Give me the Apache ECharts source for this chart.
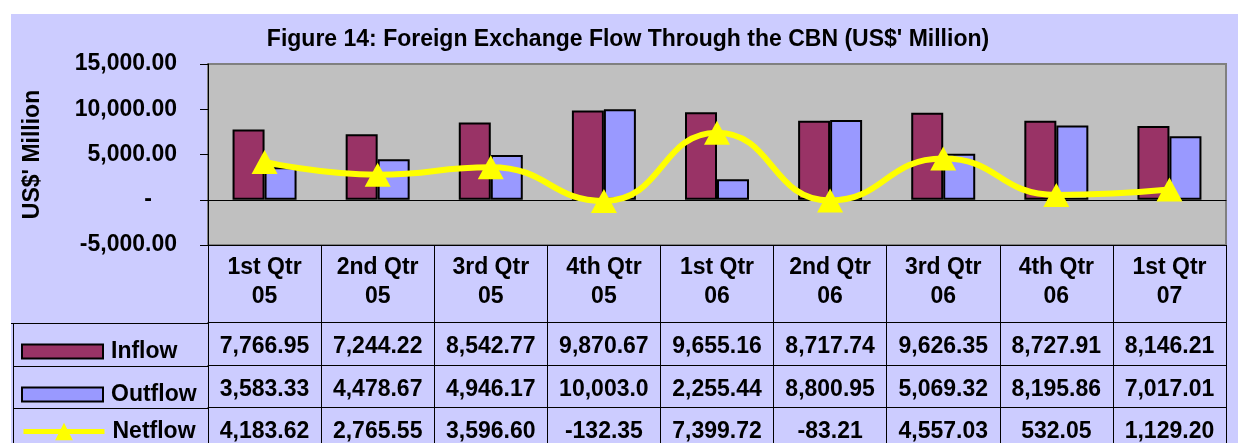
<!DOCTYPE html>
<html>
<head>
<meta charset="utf-8">
<script src="https://cdn.jsdelivr.net/npm/echarts@6/dist/echarts.min.js"></script>
<style>
    html, body { margin: 0; padding: 0; background: #fff; }
    #frame { position: absolute; left: 11px; top: 14px; width: 1227px; height: 429px; background: #CCCCFF; }
    #chart { position: absolute; left: 0; top: 0; width: 1238px; height: 443px; }
</style>
</head>
<body>
<div id="frame"></div>
<div id="chart"></div>
<script>
(function () {
    var quarters = ['1st Qtr\n05', '2nd Qtr\n05', '3rd Qtr\n05', '4th Qtr\n05',
        '1st Qtr\n06', '2nd Qtr\n06', '3rd Qtr\n06', '4th Qtr\n06', '1st Qtr\n07'];
    var inflow = [7766.95, 7244.22, 8542.77, 9870.67, 9655.16, 8717.74, 9626.35, 8727.91, 8146.21];
    var outflow = [3583.33, 4478.67, 4946.17, 10003.02, 2255.44, 8800.95, 5069.32, 8195.86, 7017.01];
    var netflow = [4183.62, 2765.55, 3596.60, -132.35, 7399.72, -83.21, 4557.03, 532.05, 1129.20];
    var yMin = -5000, yMax = 15000, yStep = 5000;

    var font = '"Liberation Sans", Arial, sans-serif';
    var fs = 23;

    // excel shows 2 decimals, cut to the cell width (8 chars)
    function money(v) {
        var s = v.toLocaleString('en-US', { minimumFractionDigits: 2, maximumFractionDigits: 2 });
        return s.length > 8 ? s.slice(0, 8) : s;
    }

    function rowAxis(offset, tickLen, margin, values) {
        return {
            type: 'category',
            data: quarters,
            position: 'bottom',
            offset: offset,
            axisLine: { show: true, onZero: false, lineStyle: { color: '#000', width: 1 } },
            axisTick: { show: true, alignWithLabel: false, interval: 0, length: tickLen, lineStyle: { color: '#000', width: 1 } },
            axisLabel: {
                interval: 0,
                margin: margin,
                color: '#000',
                fontFamily: font,
                fontWeight: 'bold',
                fontSize: fs,
                lineHeight: 23,
                formatter: function (val, i) {
                    return money(values[i]);
                }
            },
            splitLine: { show: false }
        };
    }

    var headAxis = rowAxis(0, 77, 8, null);
    headAxis.axisLabel.lineHeight = 29;
    headAxis.axisLabel.formatter = function (val) { return val; };

    function legendRow(name, top, icon, h) {
        var item = { name: name };
        if (icon) item.icon = icon;
        return {
            orient: 'vertical',
            left: 21,
            top: top,
            padding: 0,
            itemWidth: 81,
            itemHeight: h,
            lineStyle: { width: 5 },
            textStyle: { fontFamily: font, fontWeight: 'bold', fontSize: fs, color: '#000', padding: [0, 0, 0, 3] },
            data: [item]
        };
    }

    var myChart = echarts.init(document.getElementById('chart'));
    myChart.setOption({
        backgroundColor: 'transparent',
        animation: false,
        title: {
            text: "Figure 14: Foreign Exchange Flow Through the CBN (US$' Million)",
            left: 628,
            top: 28,
            textAlign: 'center',
            padding: 0,
            textStyle: { fontFamily: font, fontWeight: 'bold', fontSize: fs, color: '#000' }
        },
        legend: [
            legendRow('Inflow', 340, 'rect', 14),
            legendRow('Outflow', 383, 'rect', 14),
            legendRow('Netflow', 420, null, 22)
        ],
        grid: {
            left: 208,
            right: 12,
            top: 64,
            bottom: 197,
            show: true,
            backgroundColor: '#C0C0C0',
            borderColor: '#808080',
            borderWidth: 2
        },
        xAxis: [
            headAxis,
            rowAxis(77, 43, 13, inflow),
            rowAxis(120, 42, 13, outflow),
            rowAxis(162, 50, 13, netflow),
            {
                type: 'category',
                data: quarters,
                position: 'bottom',
                axisLine: { onZero: true, lineStyle: { color: '#000', width: 1 } },
                axisTick: { show: false },
                axisLabel: { show: false }
            }
        ],
        yAxis: {
            type: 'value',
            min: yMin,
            max: yMax,
            interval: yStep,
            name: "US$' Million",
            nameLocation: 'middle',
            nameGap: 164,
            nameTextStyle: { fontFamily: font, fontWeight: 'bold', fontSize: fs, color: '#000' },
            axisLine: { show: true, lineStyle: { color: '#000' } },
            axisTick: { show: true, length: 8, lineStyle: { color: '#000' } },
            splitLine: { show: false },
            axisLabel: {
                margin: 31,
                color: '#000',
                fontFamily: font,
                fontWeight: 'bold',
                fontSize: fs,
                formatter: function (v) {
                    return v === 0 ? '{z|-}' : v.toLocaleString('en-US', { minimumFractionDigits: 2 });
                },
                rich: {
                    z: { fontFamily: font, fontWeight: 'bold', fontSize: fs, color: '#000', padding: [0, 25, 0, 0] }
                }
            }
        },
        graphic: [
            { type: 'line', shape: { x1: 11, y1: 323.5, x2: 208, y2: 323.5 }, style: { stroke: '#000', lineWidth: 1 } },
            { type: 'line', shape: { x1: 13, y1: 366.5, x2: 208, y2: 366.5 }, style: { stroke: '#000', lineWidth: 1 } },
            { type: 'line', shape: { x1: 13, y1: 408.5, x2: 208, y2: 408.5 }, style: { stroke: '#000', lineWidth: 1 } },
            { type: 'line', shape: { x1: 13.5, y1: 323, x2: 13.5, y2: 443 }, style: { stroke: '#000', lineWidth: 1 } }
        ],
        series: [
            {
                name: 'Inflow',
                type: 'bar',
                data: inflow,
                barWidth: 32,
                barGap: '0%',
                itemStyle: { color: '#993366', borderColor: '#000', borderWidth: 2 }
            },
            {
                name: 'Outflow',
                type: 'bar',
                data: outflow,
                barWidth: 32,
                barGap: '0%',
                itemStyle: { color: '#9999FF', borderColor: '#000', borderWidth: 2 }
            },
            {
                name: 'Netflow',
                type: 'line',
                data: netflow,
                smooth: true,
                symbol: 'triangle',
                symbolSize: [26, 24],
                z: 5,
                lineStyle: { color: '#FFFF00', width: 6 },
                itemStyle: { color: '#FFFF00' }
            }
        ]
    });
})();
</script>
</body>
</html>
